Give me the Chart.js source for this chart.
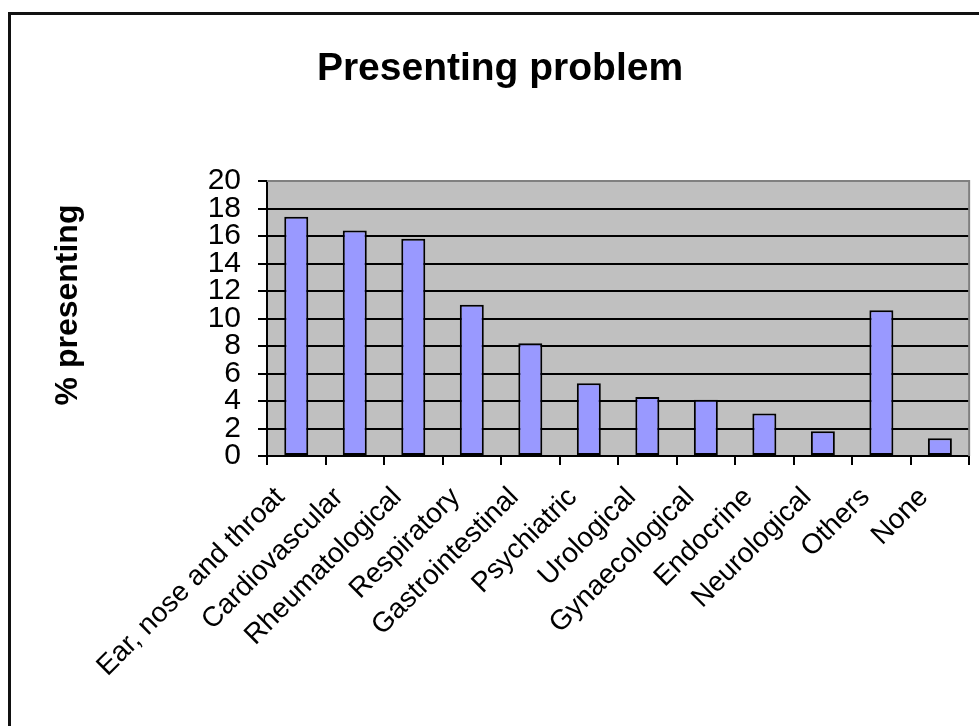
<!DOCTYPE html>
<html>
<head>
<meta charset="utf-8">
<title>Presenting problem</title>
<script src="https://cdn.jsdelivr.net/npm/chart.js@4.4.1/dist/chart.umd.min.js"></script>
<style>
  html, body { margin: 0; padding: 0; background: #ffffff; }
  canvas { display: block; }
</style>
</head>
<body>
<canvas id="chart" width="979" height="726"></canvas>
<script>
// Presenting problem categories and the share of patients (%) for each
const categories = [
  'Ear, nose and throat', 'Cardiovascular', 'Rheumatological', 'Respiratory',
  'Gastrointestinal', 'Psychiatric', 'Urological', 'Gynaecological',
  'Endocrine', 'Neurological', 'Others', 'None'
];
const percentPresenting = [17.4, 16.4, 15.8, 11.0, 8.2, 5.3, 4.3, 4.1, 3.1, 1.8, 10.6, 1.3];

// Value axis tick labels
const yTickValues = [0, 2, 4, 6, 8, 10, 12, 14, 16, 18, 20];

const chartTitle = 'Presenting problem';
const yAxisTitle = '% presenting';

const FONT = "'Liberation Sans', Arial, Helvetica, sans-serif";
Chart.defaults.font.family = FONT;
Chart.defaults.color = '#000000';

// Grey plot background, grey top/right edges, outer frame and the value-axis title
const decorations = {
  id: 'decorations',
  beforeDraw(chart) {
    const { ctx, chartArea: a } = chart;
    ctx.save();
    ctx.fillStyle = '#ffffff';
    ctx.fillRect(0, 0, chart.width, chart.height);
    ctx.fillStyle = '#c0c0c0';
    ctx.fillRect(a.left, a.top, a.right - a.left, a.bottom - a.top);
    ctx.restore();
  },
  beforeDatasetsDraw(chart) {
    const { ctx, chartArea: a } = chart;
    ctx.save();
    ctx.strokeStyle = '#808080';
    ctx.lineWidth = 2;
    ctx.beginPath();
    ctx.moveTo(a.left, a.top);
    ctx.lineTo(a.right, a.top);
    ctx.lineTo(a.right, a.bottom);
    ctx.stroke();
    ctx.restore();
  },
  afterDraw(chart) {
    const { ctx } = chart;
    ctx.save();
    // outer frame
    ctx.strokeStyle = '#111111';
    ctx.lineWidth = 3;
    ctx.strokeRect(9.5, 13.5, 1100, 900);
    // value-axis title
    ctx.translate(68, 305);
    ctx.rotate(-Math.PI / 2);
    ctx.font = 'bold 32px ' + FONT;
    ctx.fillStyle = '#000000';
    ctx.textAlign = 'center';
    ctx.textBaseline = 'middle';
    ctx.fillText(yAxisTitle, 0, 0);
    ctx.restore();
  }
};

new Chart(document.getElementById('chart'), {
  type: 'bar',
  data: {
    labels: categories,
    datasets: [{
      data: percentPresenting,
      backgroundColor: '#9999ff',
      borderColor: '#000000',
      borderWidth: 2,
      borderSkipped: false,
      categoryPercentage: 1.0,
      barPercentage: 0.41
    }]
  },
  options: {
    responsive: false,
    animation: false,
    layout: { padding: { left: 29, right: 8, top: 0, bottom: 0 } },
    plugins: {
      legend: { display: false },
      tooltip: { enabled: false },
      title: {
        display: true,
        text: chartTitle,
        font: { size: 39, weight: 'bold', family: FONT, lineHeight: 1.2 },
        color: '#000000',
        padding: { top: 46, bottom: 88.2 }
      }
    },
    scales: {
      x: {
        offset: true,
        grid: {
          offset: true,
          drawOnChartArea: false,
          drawTicks: true,
          tickLength: 9,
          tickColor: '#000000',
          tickWidth: 2,
          lineWidth: 2
        },
        border: { display: true, color: '#000000', width: 2 },
        ticks: {
          autoSkip: false,
          minRotation: 45,
          maxRotation: 45,
          labelOffset: -16,
          padding: 17,
          font: { size: 28, family: FONT, lineHeight: 1.1 },
          color: '#000000'
        },
        afterFit(scale) { scale.height = 726 - 456; }
      },
      y: {
        min: yTickValues[0],
        max: yTickValues[yTickValues.length - 1],
        grid: {
          drawTicks: true,
          tickLength: 9,
          tickColor: '#000000',
          tickWidth: 2,
          lineWidth: 2,
          color: (c) => (c.tick && c.tick.value === yTickValues[yTickValues.length - 1]) ? '#808080' : '#000000'
        },
        border: { display: true, color: '#000000', width: 2 },
        ticks: {
          stepSize: yTickValues[1] - yTickValues[0],
          autoSkip: false,
          padding: 17,
          font: { size: 30, family: FONT, lineHeight: 1.0 },
          color: '#000000'
        },
        afterFit(scale) { scale.width = 267 - 29; }
      }
    }
  },
  plugins: [decorations]
});
</script>
</body>
</html>
